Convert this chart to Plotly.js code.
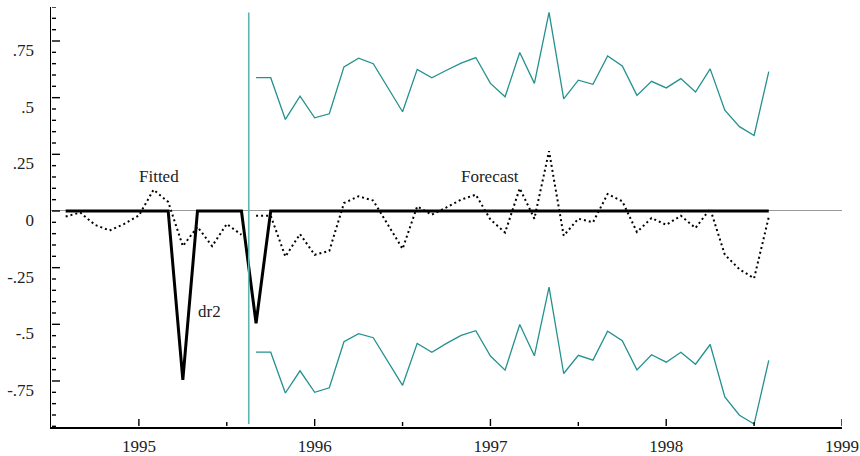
<!DOCTYPE html>
<html>
<head>
<meta charset="utf-8">
<script src="https://cdn.plot.ly/plotly-3.0.1.min.js"></script>
<style>html,body{margin:0;padding:0;background:#fff;}#chart{width:860px;height:456px;}</style>
</head>
<body>
<div id="chart"></div>
<script>
// Monthly series, first observation August 1994
const startYear = 1994;
const startMonth = 8;

// actual series dr2 (Aug 1994 - Aug 1998)
const dr2 = [0, 0, 0, 0, 0, 0, 0, 0, -0.745, 0, 0, 0, 0,
  -0.495, 0, 0, 0, 0, 0, 0, 0, 0, 0, 0, 0, 0, 0, 0, 0, 0, 0, 0, 0, 0, 0, 0,
  0, 0, 0, 0, 0, 0, 0, 0, 0, 0, 0, 0, 0];

// fitted values (Aug 1994 - Aug 1995)
const fitted = [-0.024, -0.007, -0.061, -0.086, -0.057, -0.02, 0.094, 0.04, -0.155, -0.07, -0.155, -0.057, -0.105];

// forecasts (Sep 1995 - Aug 1998)
const forecast = [-0.021, -0.021, -0.201, -0.102, -0.193, -0.176, 0.035, 0.065, 0.046, -0.061, -0.167, 0.020,
  -0.016, 0.016, 0.050, 0.072, -0.038, -0.095, 0.100, -0.034, 0.264, -0.109, -0.034, -0.050,
  0.075, 0.043, -0.093, -0.031, -0.061, -0.021, -0.075, 0.010, -0.193, -0.257, -0.297, -0.027];

// forecast error bands
const upperBand = [0.588, 0.588, 0.404, 0.507, 0.411, 0.429, 0.636, 0.674, 0.650, 0.544, 0.438, 0.625,
  0.588, 0.621, 0.652, 0.677, 0.563, 0.504, 0.699, 0.563, 0.876, 0.495, 0.577, 0.559,
  0.684, 0.640, 0.510, 0.572, 0.543, 0.584, 0.525, 0.627, 0.445, 0.372, 0.333, 0.615];
const lowerBand = [-0.623, -0.623, -0.803, -0.705, -0.800, -0.780, -0.577, -0.541, -0.559, -0.665, -0.769, -0.584,
  -0.623, -0.584, -0.549, -0.528, -0.640, -0.702, -0.501, -0.639, -0.336, -0.717, -0.637, -0.658,
  -0.530, -0.572, -0.701, -0.634, -0.667, -0.623, -0.676, -0.589, -0.820, -0.901, -0.940, -0.659];

const yTickVals = [-0.75, -0.5, -0.25, 0, 0.25, 0.5, 0.75];
const yTickText = ['-.75', '-.5', '-.25', '0', '.25', '.5', '.75'];
const xTickVals = [1995, 1996, 1997, 1998, 1999];
const xTickText = ['1995', '1996', '1997', '1998', '1999'];
const yMinorStep = 0.05;
const xMinorVals = [1995.5, 1996.5, 1997.5, 1998.5];

const labelFitted = 'Fitted';
const labelForecast = 'Forecast';
const labelSeries = 'dr2';

// time index (decimal years, equally spaced months)
const t = i => startYear + (startMonth - 1 + i) / 12;
const xAll = dr2.map((_, i) => t(i));
const xFit = fitted.map((_, i) => t(i));
const off = fitted.length;
const xFc = forecast.map((_, i) => t(off + i));
const forecastStart = (xFit[xFit.length - 1] + xFc[0]) / 2;

const teal = '#23918f';
const serif = 'Liberation Serif, Times New Roman, serif';
const W = 860, H = 456;
const M = {l: 51, r: 18, t: 7, b: 29};
const xRange = [1994.5, 1999];
const yRange = [-0.953, 0.9];
// size of one screen pixel in axis units (for tick-mark lengths)
const pxX = (xRange[1] - xRange[0]) / (W - M.l - M.r);
const pxY = (yRange[1] - yRange[0]) / (H - M.t - M.b);

// inward tick marks as one segmented line trace (null breaks between segments)
const tickX = [], tickY = [];
const xStart = xRange[0] + 1 * pxX;
const yStart = yRange[0] + 1 * pxY;
for (let k = Math.ceil(yRange[0] / yMinorStep); k * yMinorStep <= yRange[1]; k++) {
  const v = Math.round(k * yMinorStep * 100) / 100;
  const len = yTickVals.includes(v) ? 8 : 4;
  tickX.push(xStart, xStart + len * pxX, null);
  tickY.push(v, v, null);
}
xTickVals.forEach(v => { tickX.push(v, v, null); tickY.push(yStart, yStart + 7 * pxY, null); });
xMinorVals.forEach(v => { tickX.push(v, v, null); tickY.push(yStart, yStart + 4 * pxY, null); });

const traces = [
  {x: xFc, y: upperBand, mode: 'lines', line: {color: teal, width: 1.3}, hoverinfo: 'skip'},
  {x: xFc, y: lowerBand, mode: 'lines', line: {color: teal, width: 1.3}, hoverinfo: 'skip'},
  {x: xFit, y: fitted, mode: 'lines', line: {color: '#000', width: 2, dash: '2px,3px'}},
  {x: xFc, y: forecast, mode: 'lines', line: {color: '#000', width: 2, dash: '2px,3px'}},
  {x: xAll, y: dr2, mode: 'lines', line: {color: '#000', width: 3}},
  {x: tickX, y: tickY, mode: 'lines', connectgaps: false, cliponaxis: false,
   line: {color: '#000', width: 1.4}, hoverinfo: 'skip'}
];

const layout = {
  width: W, height: H,
  margin: {l: M.l, r: M.r, t: M.t, b: M.b, pad: 0},
  paper_bgcolor: '#fff', plot_bgcolor: '#fff',
  showlegend: false,
  font: {family: serif, size: 17, color: '#222'},
  xaxis: {
    range: xRange, showgrid: false, zeroline: false,
    showline: true, linecolor: '#000', linewidth: 1.5,
    tickmode: 'array', tickvals: xTickVals, ticktext: xTickText,
    ticks: '', ticklabelstandoff: 3,
    tickfont: {family: serif, size: 17, color: '#222'}
  },
  yaxis: {
    range: yRange, showgrid: false,
    zeroline: true, zerolinecolor: '#999', zerolinewidth: 1,
    showline: true, linecolor: '#000', linewidth: 1.5,
    tickmode: 'array', tickvals: yTickVals, ticktext: yTickText,
    ticks: '', ticklabelstandoff: 12, ticklabelshift: 9,
    tickfont: {family: serif, size: 17, color: '#222'}
  },
  shapes: [
    {type: 'line', xref: 'x', yref: 'y', x0: forecastStart, x1: forecastStart, y0: -0.94, y1: 0.876,
     line: {color: '#5db5b3', width: 1.6}}
  ],
  annotations: [
    {x: 1995.115, y: 0.153, xref: 'x', yref: 'y', text: labelFitted, showarrow: false,
     font: {family: serif, size: 17, color: '#222'}},
    {x: 1997.0, y: 0.153, xref: 'x', yref: 'y', text: labelForecast, showarrow: false,
     font: {family: serif, size: 17, color: '#222'}},
    {x: 1995.399, y: -0.444, xref: 'x', yref: 'y', text: labelSeries, showarrow: false,
     font: {family: serif, size: 17, color: '#222'}}
  ]
};

Plotly.newPlot('chart', traces, layout, {displayModeBar: false, staticPlot: true});
</script>
</body>
</html>
